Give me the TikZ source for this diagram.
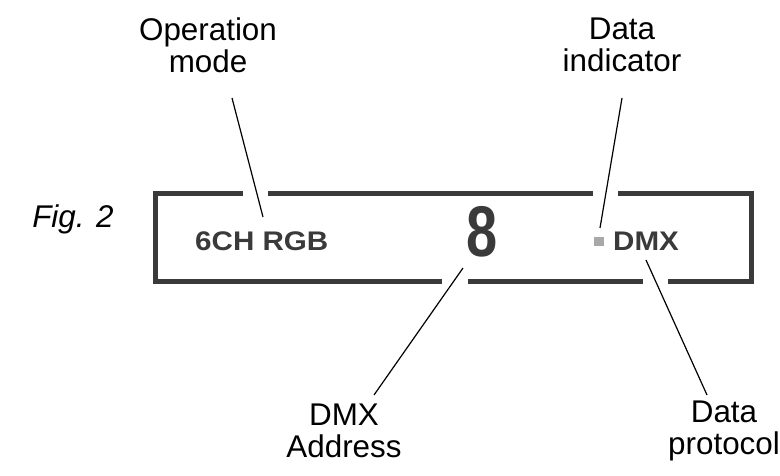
\documentclass[tikz,border=0pt]{standalone}
\usepackage{fontspec}
\setmainfont{Liberation Sans}
\definecolor{boxgray}{HTML}{3A3A3A}
\definecolor{ledgray}{HTML}{A8A8A8}
\begin{document}
\begin{tikzpicture}[x=1bp,y=-1bp,
  lbl/.style={align=center,font=\fontsize{31.5}{32}\selectfont,inner sep=0pt},
  frame/.style={line width=5bp,draw=boxgray},
  lead/.style={line width=1.2bp,draw=black},
  disp/.style={text=boxgray,font=\fontsize{27}{27}\selectfont\bfseries,inner sep=0pt}]
\useasboundingbox (0,0) rectangle (780,476);
% frame segments
\draw[frame,line join=miter] (243,193.5) -- (155.5,193.5) -- (155.5,282) -- (442,282);
\draw[frame] (268,193.5) -- (593,193.5);
\draw[frame,line join=miter] (618,193.5) -- (751,193.5) -- (751,282) -- (668,282);
\draw[frame] (468,282) -- (643,282);
% labels
\node[lbl] (opmode) at (208,45) {Operation\\mode};
\node[lbl] (dataind) at (622,45) {Data\\indicator};
\node[lbl] (dmxaddr) at (344,431) {DMX\\Address};
\node[lbl] (dataprot) at (724,431) {Data\\protocol};
\node[lbl,font=\fontsize{31.5}{32}\selectfont\itshape] (fig) at (73,219) {Fig. 2};
% display contents
\node[disp,anchor=west] (mode) at (195,241.5) {\scalebox{1.1}[1]{6CH RGB}};
\node[disp,anchor=west] (proto) at (613,241.5) {\scalebox{1.1}[1]{DMX}};
\node[text=boxgray,inner sep=0pt] (digit) at (482,232) {\scalebox{0.78}[1]{\fontsize{72}{72}\selectfont\bfseries 8}};
\fill[ledgray] (594,237) rectangle (604,246);
\coordinate (led) at (600,228);
\coordinate (modept) at (263,217);
\coordinate (digitpt) at (463,268);
\coordinate (protopt) at (646,260);
% leaders
\draw[lead] (232,98) -- (modept);
\draw[lead] (622,98) -- (led);
\draw[lead] (digitpt) -- (374,395);
\draw[lead] (protopt) -- (707,395);
\end{tikzpicture}
\end{document}
